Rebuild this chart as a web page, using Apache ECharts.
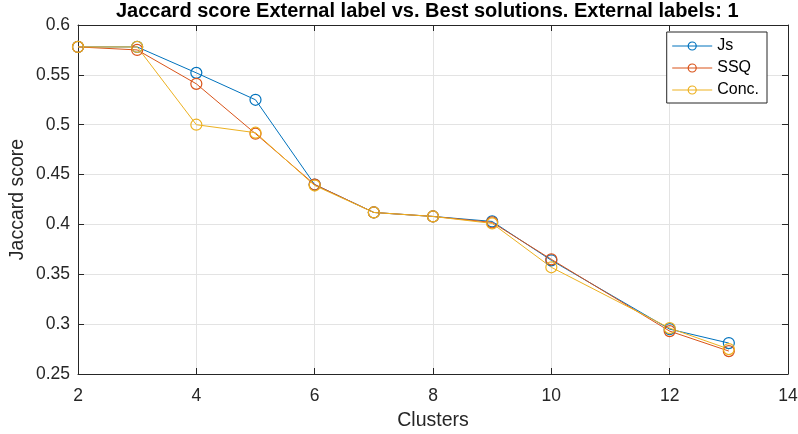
<!DOCTYPE html>
<html>
<head>
<meta charset="utf-8">
<script src="https://cdn.jsdelivr.net/npm/echarts@6/dist/echarts.min.js"></script>
<style>
  html, body { margin: 0; padding: 0; background: #fff; }
  #chart { width: 798px; height: 434px; }
</style>
</head>
<body>
<div id="chart"></div>
<script>
// Number of clusters
const clusters = [2, 3, 4, 5, 6, 7, 8, 9, 10, 12, 13];
// Jaccard score per criterion
const jsScores   = [0.578, 0.578, 0.552, 0.525, 0.440, 0.412, 0.408, 0.403, 0.364, 0.295, 0.281];
const ssqScores  = [0.578, 0.575, 0.541, 0.491, 0.440, 0.412, 0.408, 0.402, 0.365, 0.293, 0.273];
const concScores = [0.578, 0.578, 0.500, 0.492, 0.439, 0.412, 0.408, 0.401, 0.357, 0.296, 0.275];
const seriesNames = ['Js', 'SSQ', 'Conc.'];
const colors = ['#0072BD', '#D95319', '#EDB120'];

const font = 'Liberation Sans, Arial, Helvetica, sans-serif';
const axisColor = '#262626';

function toPairs(ys) { return clusters.map((x, i) => [x, ys[i]]); }

function lineSeries(name, ys, color) {
  return {
    name: name,
    type: 'line',
    data: toPairs(ys),
    symbol: 'circle',
    symbolSize: 11,
    lineStyle: { color: color, width: 1 },
    itemStyle: { color: 'rgba(255,255,255,0)', borderColor: color, borderWidth: 1.2 },
    emphasis: { disabled: true },
    animation: false
  };
}

const chart = echarts.init(document.getElementById('chart'), null, { renderer: 'canvas' });

const tickCommon = { show: true, inside: true, length: 6, lineStyle: { color: axisColor, width: 1 } };
const lineCommon = { show: true, lineStyle: { color: axisColor, width: 1 } };

chart.setOption({
  backgroundColor: '#fff',
  animation: false,
  title: {
    text: 'Jaccard score External label vs. Best solutions. External labels: 1',
    left: 116, top: 1, padding: 0,
    textStyle: { fontFamily: font, fontSize: 20, fontWeight: 'bold', color: '#000' }
  },
  legend: {
    data: seriesNames,
    orient: 'vertical',
    right: 31, top: 32,
    itemWidth: 40, itemHeight: 10, itemGap: 6,
    padding: [6, 8, 5, 5],
    backgroundColor: '#fff',
    borderColor: axisColor, borderWidth: 1,
    lineStyle: { width: 1 },
    itemStyle: { borderWidth: 1.2 },
    textStyle: { fontFamily: font, fontSize: 16, color: '#000' }
  },
  grid: { left: 78, right: 10, top: 25, bottom: 60, containLabel: false, outerBoundsMode: 'none' },
  xAxis: [{
    type: 'value', min: 2, max: 14, interval: 2,
    name: 'Clusters', nameLocation: 'middle', nameGap: 37,
    nameTextStyle: { fontFamily: font, fontSize: 19.5, color: axisColor },
    axisLine: lineCommon, axisTick: tickCommon,
    axisLabel: { fontFamily: font, fontSize: 17.5, color: axisColor, margin: 13 },
    splitLine: { show: true, lineStyle: { color: '#e3e3e3', width: 1 } }
  }, {
    type: 'value', position: 'top', min: 2, max: 14, interval: 2,
    axisLine: lineCommon, axisTick: tickCommon,
    axisLabel: { show: false }, splitLine: { show: false }
  }],
  yAxis: [{
    type: 'value', min: 0.25, max: 0.6, interval: 0.05,
    name: 'Jaccard score', nameLocation: 'middle', nameGap: 50, nameMoveOverlap: false,
    nameTextStyle: { fontFamily: font, fontSize: 19.5, color: axisColor },
    axisLine: lineCommon, axisTick: tickCommon,
    axisLabel: { fontFamily: font, fontSize: 17.5, color: axisColor, margin: 8,
      formatter: v => String(+v.toFixed(2)) },
    splitLine: { show: true, lineStyle: { color: '#e3e3e3', width: 1 } }
  }, {
    type: 'value', position: 'right', min: 0.25, max: 0.6, interval: 0.05,
    axisLine: lineCommon, axisTick: tickCommon,
    axisLabel: { show: false }, splitLine: { show: false }
  }],
  series: [
    lineSeries(seriesNames[0], jsScores, colors[0]),
    lineSeries(seriesNames[1], ssqScores, colors[1]),
    lineSeries(seriesNames[2], concScores, colors[2])
  ]
});
</script>
</body>
</html>
